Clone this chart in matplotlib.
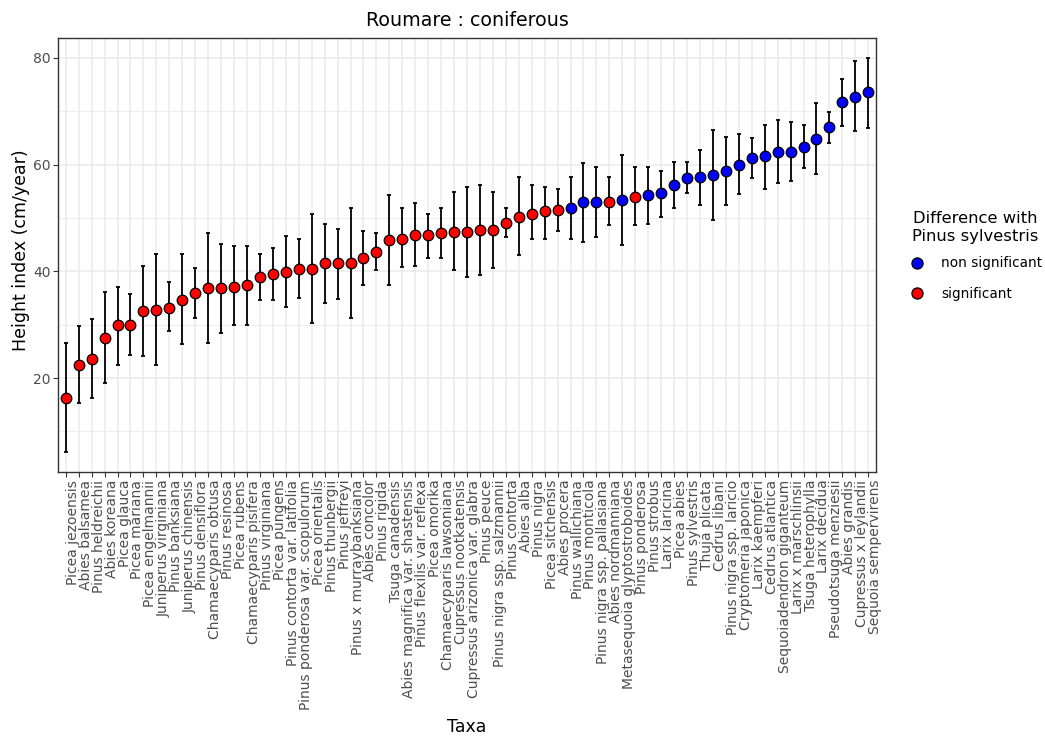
import matplotlib
matplotlib.use("Agg")
import matplotlib.pyplot as plt
from matplotlib.lines import Line2D
import numpy as np

taxa = [
    "Picea jezoensis", "Abies balsamea", "Pinus heldreichii", "Abies koreana",
    "Picea glauca", "Picea mariana", "Picea engelmannii", "Juniperus virginiana",
    "Pinus banksiana", "Juniperus chinensis", "Pinus densiflora", "Chamaecyparis obtusa",
    "Pinus resinosa", "Picea rubens", "Chamaecyparis pisifera", "Pinus virginiana",
    "Picea pungens", "Pinus contorta var. latifolia", "Pinus ponderosa var. scopulorum",
    "Picea orientalis", "Pinus thunbergii", "Pinus jeffreyi", "Pinus x murraybanksiana",
    "Abies concolor", "Pinus rigida", "Tsuga canadensis", "Abies magnifica var. shastensis",
    "Pinus flexilis var. reflexa", "Picea omorika", "Chamaecyparis lawsoniana",
    "Cupressus nootkatensis", "Cupressus arizonica var. glabra", "Pinus peuce",
    "Pinus nigra ssp. salzmannii", "Pinus contorta", "Abies alba", "Pinus nigra",
    "Picea sitchensis", "Abies procera", "Pinus wallichiana", "Pinus monticola",
    "Pinus nigra ssp. pallasiana", "Abies nordmanniana", "Metasequoia glyptostroboides",
    "Pinus ponderosa", "Pinus strobus", "Larix laricina", "Picea abies",
    "Pinus sylvestris", "Thuja plicata", "Cedrus libani", "Pinus nigra ssp. laricio",
    "Cryptomeria japonica", "Larix kaempferi", "Cedrus atlantica",
    "Sequoiadendron giganteum", "Larix x marschlinsii", "Tsuga heterophylla",
    "Larix decidua", "Pseudotsuga menziesii", "Abies grandis", "Cupressus x leylandii",
    "Sequoia sempervirens",
]

height_mean = [
    16.3, 22.5, 23.5, 27.5, 30.0, 30.0, 32.5, 32.8, 33.2, 34.7,
    36.0, 36.8, 36.8, 37.1, 37.5, 39.0, 39.4, 39.9, 40.5, 40.5,
    41.5, 41.5, 41.5, 42.4, 43.6, 45.8, 46.1, 46.8, 46.8, 47.1,
    47.4, 47.4, 47.7, 47.7, 49.0, 50.2, 50.8, 51.2, 51.5, 51.8,
    53.0, 53.0, 53.0, 53.3, 54.0, 54.3, 54.6, 56.1, 57.4, 57.7,
    58.0, 58.7, 60.0, 61.2, 61.5, 62.3, 62.3, 63.3, 64.8, 67.0,
    71.7, 72.7, 73.5,
]

height_low = [
    6.1, 15.3, 16.3, 19.1, 22.5, 24.3, 24.1, 22.5, 28.8, 26.3,
    31.3, 26.6, 28.5, 29.9, 29.9, 34.7, 34.7, 33.3, 35.0, 30.3,
    34.0, 34.9, 31.3, 37.4, 40.3, 37.5, 40.8, 40.9, 42.5, 42.4,
    40.3, 39.0, 39.3, 40.7, 46.5, 43.0, 46.0, 46.0, 47.5, 46.0,
    45.5, 46.5, 48.6, 44.9, 48.6, 48.8, 50.2, 51.8, 54.6, 52.4,
    49.6, 52.4, 54.4, 57.4, 55.5, 56.5, 56.9, 59.3, 58.2, 64.1,
    67.2, 66.3, 66.9,
]

height_high = [
    26.6, 29.7, 31.0, 36.1, 37.1, 35.7, 41.0, 43.2, 37.9, 43.2,
    40.7, 47.2, 45.2, 44.7, 44.7, 43.2, 44.3, 46.6, 46.0, 50.8,
    48.8, 48.0, 51.8, 47.5, 47.1, 54.3, 51.8, 52.7, 50.8, 51.8,
    54.9, 55.8, 56.1, 54.9, 51.8, 57.7, 56.1, 55.8, 55.5, 57.7,
    60.2, 59.6, 57.7, 61.7, 59.6, 59.6, 58.7, 60.5, 60.5, 62.7,
    66.5, 65.2, 65.7, 64.9, 67.4, 68.3, 68.0, 67.4, 71.5, 69.9,
    76.0, 79.4, 80.0,
]

# 1 = significant difference with Pinus sylvestris, 0 = non significant
significant = [1] * 39 + [0, 0, 0, 1, 0, 1] + [0] * 18

groups = ["non significant", "significant"]
group_colors = {"non significant": "#0000FF", "significant": "#FF0000"}

FONT = "DejaVu Sans"
W, H = 1045, 736
fig = plt.figure(figsize=(W / 100, H / 100), dpi=100)
left, right, top, bottom = 58 / W, 876 / W, 38 / H, 472 / H
ax = fig.add_axes([left, 1 - bottom, right - left, bottom - top])

x = np.arange(len(taxa))
mean = np.array(height_mean)
low = np.array(height_low)
high = np.array(height_high)

# y limits with ggplot-like 5% expansion
ymin, ymax = low.min(), high.max()
rng = ymax - ymin
ax.set_ylim(ymin - 0.05 * rng, ymax + 0.05 * rng)
ax.set_xlim(-0.6, len(taxa) - 1 + 0.6)

ax.set_facecolor("white")
for v in [10, 30, 50, 70]:
    ax.axhline(v, color="#EBEBEB", lw=0.6, zorder=0)
for v in [20, 40, 60, 80]:
    ax.axhline(v, color="#EBEBEB", lw=1.1, zorder=0)
for xi in x:
    ax.axvline(xi, color="#EBEBEB", lw=1.1, zorder=0)

ax.errorbar(x, mean, yerr=[mean - low, high - mean], fmt="none",
            ecolor="black", elinewidth=1.3, capsize=1.5, capthick=1.3, zorder=2)

sig = np.array(significant)
for g in groups:
    m = sig == (1 if g == "significant" else 0)
    ax.scatter(x[m], mean[m], s=58, c=group_colors[g], edgecolors="black",
               linewidths=0.9, zorder=3)

ax.set_xticks(x)
ax.set_xticklabels(taxa, rotation=90, ha="left", va="top",
                   fontsize=10, color="#4D4D4D", family=FONT)
ax.set_yticks([20, 40, 60, 80])
ax.set_yticklabels(["20", "40", "60", "80"], fontsize=10, color="#4D4D4D",
                   family=FONT)
ax.tick_params(axis="both", length=3.5, width=0.8, color="#333333", pad=2)

for s in ax.spines.values():
    s.set_color("#333333")
    s.set_linewidth(1.0)

cx = (58 + 876) / 2 / W
fig.text(cx, 1 - 20 / H, "Roumare : coniferous", ha="center", va="center",
         fontsize=13.7, family=FONT)
fig.text(cx, 1 - 727 / H, "Taxa", ha="center", va="center",
         fontsize=12.5, family=FONT)
fig.text(21 / W, 1 - 250 / H, "Height index (cm/year)", ha="center", va="center",
         rotation=90, fontsize=12.5, family=FONT)

handles = [Line2D([0], [0], marker="o", linestyle="none", markersize=8,
                  markerfacecolor=group_colors[g], markeredgecolor="black",
                  markeredgewidth=0.9) for g in groups]
leg = fig.legend(handles, groups, loc="upper left",
                 bbox_to_anchor=(903 / W, 1 - 206 / H), frameon=False,
                 title="Difference with\nPinus sylvestris",
                 prop={"family": FONT, "size": 9.8},
                 title_fontproperties={"family": FONT, "size": 11.8},
                 handletextpad=1.2, labelspacing=1.2, borderaxespad=0,
                 handlelength=1.2)
leg._legend_box.align = "center"
leg.get_title().set_multialignment("center")
leg._legend_box.sep = 9

fig.savefig("out.png", dpi=100)
